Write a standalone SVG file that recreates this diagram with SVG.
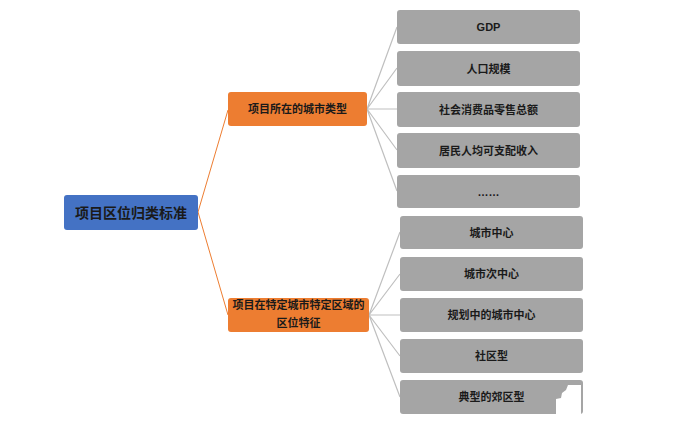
<svg xmlns="http://www.w3.org/2000/svg" width="675" height="436" viewBox="0 0 675 436">
<style>
text{font-family:"Liberation Sans","Noto Sans CJK SC",sans-serif;font-weight:bold;text-anchor:middle;dominant-baseline:central;fill:#1a1a1a}
.root rect{fill:#4472C4}
.mid rect{fill:#ED7D31}
.leaf rect{fill:#A5A5A5}
.root text{font-size:14px}
.mid text,.leaf text{font-size:11px}
.o{stroke:#ED7D31;stroke-width:1;fill:none}
.g{stroke:#BFBFBF;stroke-width:1.2;fill:none}
</style>
<rect width="675" height="436" fill="#fff"/>
<g id="connectors">
<path class="o" d="M198,212 L228,110"/>
<path class="o" d="M198,212 L228,315"/>
<path class="g" d="M367,109 L397,27 M367,109 L397,68 M367,109 L397,109 M367,109 L397,150 M367,109 L397,191"/>
<path class="g" d="M369,315 L400,232 M369,315 L400,274 M369,315 L400,315 M369,315 L400,356 M369,315 L400,397"/>
</g>
<g id="root" class="root"><rect x="64" y="195" width="134" height="35" rx="3"/><text x="131" y="212.5">项目区位归类标准</text></g>
<g id="city-type" class="mid"><rect x="228" y="92" width="139" height="34" rx="3"/><text x="297.5" y="109">项目所在的城市类型</text></g>
<g id="area-feature" class="mid"><rect x="228" y="298" width="141" height="34" rx="3"/><text x="298.5" y="305">项目在特定城市特定区域的</text><text x="298.5" y="323">区位特征</text></g>
<g id="gdp" class="leaf"><rect x="397" y="10" width="183" height="34" rx="3"/><text x="488.5" y="27">GDP</text></g>
<g id="population" class="leaf"><rect x="397" y="51" width="183" height="35" rx="3"/><text x="488.5" y="68.5">人口规模</text></g>
<g id="retail" class="leaf"><rect x="397" y="92" width="183" height="35" rx="3"/><text x="488.5" y="109.5">社会消费品零售总额</text></g>
<g id="income" class="leaf"><rect x="397" y="133" width="183" height="35" rx="3"/><text x="488.5" y="150.5">居民人均可支配收入</text></g>
<g id="etc" class="leaf"><rect x="397" y="175" width="183" height="33" rx="3"/><text x="488.5" y="191.5">……</text></g>
<g id="center" class="leaf"><rect x="400" y="216" width="183" height="33" rx="3"/><text x="491.5" y="232.5">城市中心</text></g>
<g id="subcenter" class="leaf"><rect x="400" y="257" width="183" height="34" rx="3"/><text x="491.5" y="274">城市次中心</text></g>
<g id="planned" class="leaf"><rect x="400" y="298" width="183" height="34" rx="3"/><text x="491.5" y="315">规划中的城市中心</text></g>
<g id="community" class="leaf"><rect x="400" y="339" width="183" height="34" rx="3"/><text x="491.5" y="356">社区型</text></g>
<g id="suburb" class="leaf"><rect x="400" y="380" width="183" height="34" rx="3"/><text x="491.5" y="397">典型的郊区型</text></g>
<path d="M556,415 L556,399 L561,398 L562,393 L566,390 L568,385 L581,385 L581,415 Z" fill="#fff"/>
</svg>
